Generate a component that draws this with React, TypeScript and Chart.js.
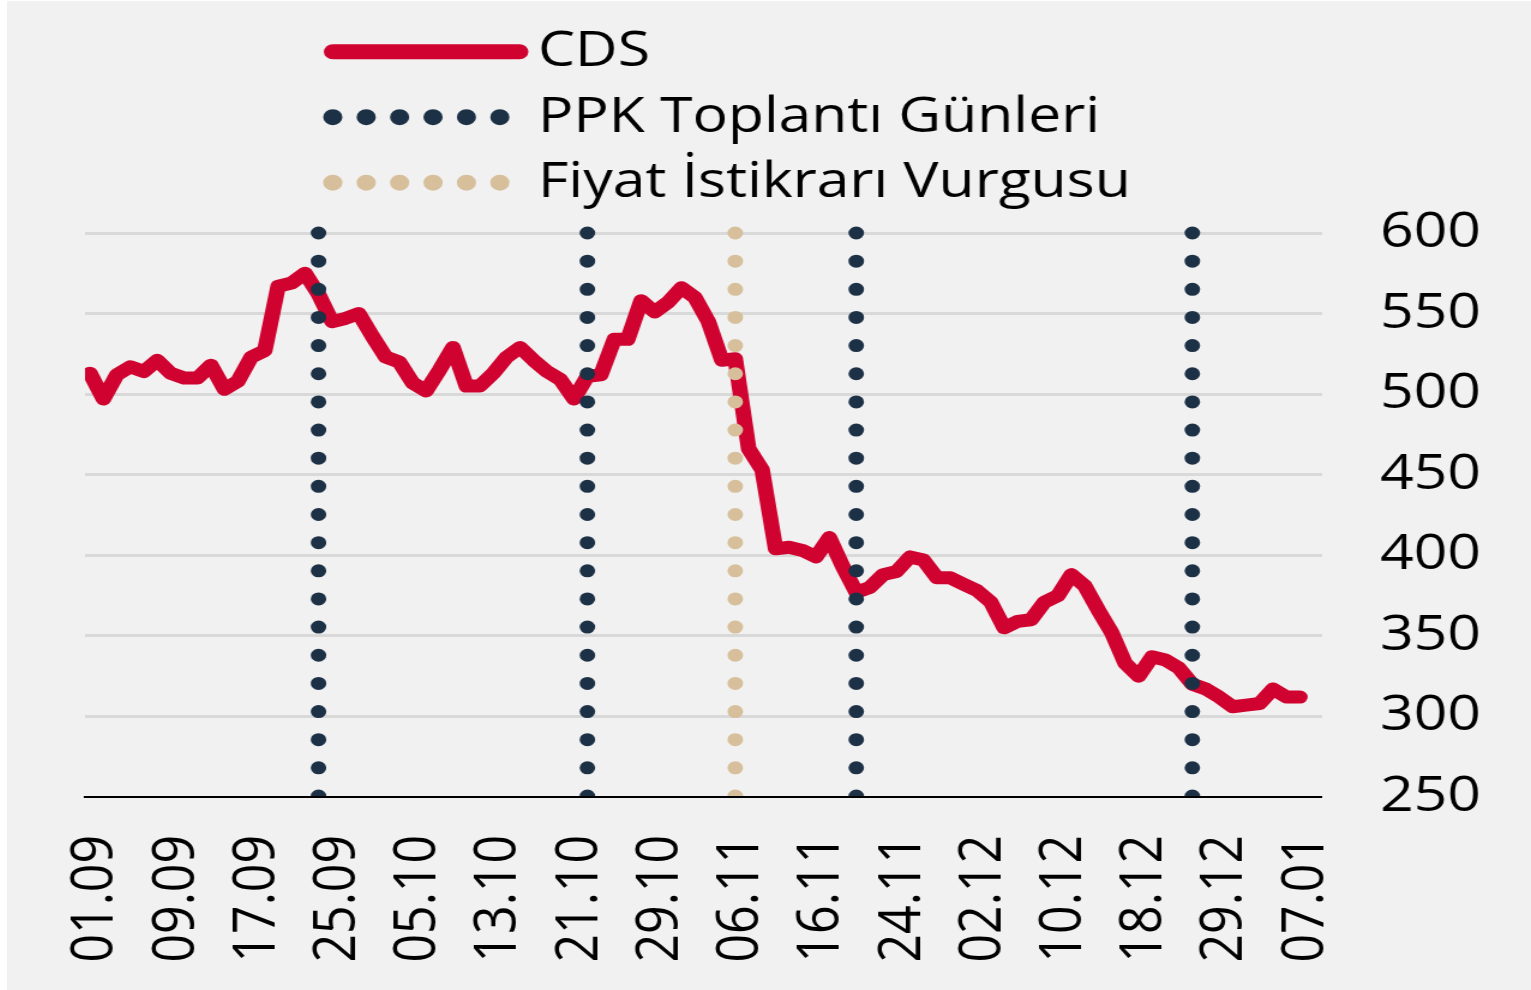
import React, { useEffect, useRef } from 'react';
import { Chart, registerables } from 'chart.js';

Chart.register(...registerables);

// ---------- data ----------
const DATES = [
  '01.09', '02.09', '03.09', '04.09', '07.09', '08.09', '09.09', '10.09', '11.09', '14.09', '15.09',
  '16.09', '17.09', '18.09', '21.09', '22.09', '23.09', '24.09', '25.09', '28.09', '29.09', '30.09',
  '01.10', '02.10', '05.10', '06.10', '07.10', '08.10', '09.10', '12.10', '13.10', '14.10', '15.10',
  '16.10', '19.10', '20.10', '21.10', '22.10', '23.10', '26.10', '27.10', '28.10', '29.10', '30.10',
  '02.11', '03.11', '04.11', '05.11', '06.11', '09.11', '10.11', '11.11', '12.11', '13.11', '16.11',
  '17.11', '18.11', '19.11', '20.11', '23.11', '24.11', '25.11', '26.11', '27.11', '30.11',
  '01.12', '02.12', '03.12', '04.12', '07.12', '08.12', '09.12', '10.12', '11.12', '14.12', '15.12',
  '16.12', '17.12', '18.12', '21.12', '22.12', '23.12', '24.12', '28.12', '29.12', '30.12', '31.12',
  '04.01', '05.01', '06.01', '07.01',
];

const CDS = [
  513, 497, 512, 517, 514, 521, 513, 510, 510, 518, 503, 508, 523, 527, 567, 569, 575, 562, 545, 547,
  550, 536, 523, 520, 507, 502, 515, 529, 505, 505, 513, 523, 529, 521, 514, 509, 497, 511, 512, 534,
  534, 558, 551, 557, 566, 560, 545, 521, 522, 466, 453, 404, 405, 403, 399, 411, 393, 377, 380, 388,
  390, 399, 397, 386, 386, 382, 378, 371, 355, 359, 360, 371, 375, 388, 381, 366, 352, 333, 325, 337,
  335, 330, 320, 317, 312, 306, 307, 308, 317, 312, 312,
];

const PPK_DATES = ['24.09', '22.10', '19.11', '24.12'];
const FIYAT_DATES = ['06.11'];

const TICK_DATES = [
  '01.09', '09.09', '17.09', '25.09', '05.10', '13.10', '21.10', '29.10',
  '06.11', '16.11', '24.11', '02.12', '10.12', '18.12', '29.12', '07.01',
];
const Y_TICKS = [250, 300, 350, 400, 450, 500, 550, 600];

const LABELS = ['CDS', 'PPK Toplantı Günleri', 'Fiyat İstikrarı Vurgusu'];

// ---------- style ----------
const FONT = "'Open Sans', sans-serif";
const RED = '#d0022f';
const NAVY = '#1d3146';
const TAN = '#d6bf9a';
const BG = '#f1f1f1';
const W = 1270;
const H = 989;
const SX = 1.2;

const Y_MIN = Y_TICKS[0];
const Y_MAX = Y_TICKS[Y_TICKS.length - 1];

// vertical marker lines, drawn top -> bottom, broken by null gaps
const vLine = (dates: string[]) =>
  dates.flatMap((d) => {
    const i = DATES.indexOf(d);
    return [
      { x: i, y: Y_MAX },
      { x: i, y: Y_MIN },
      { x: i, y: null },
    ];
  });

const stackedLegend = {
  id: 'stackedLegend',
  afterDatasetsDraw(chart: any, _args: any, opts: any) {
    const { ctx } = chart;
    chart.data.datasets.forEach((ds: any, i: number) => {
      const y = opts.firstY + i * opts.gap;
      ctx.save();
      ctx.strokeStyle = ds.borderColor;
      ctx.lineWidth = ds.legendWidth ?? ds.borderWidth;
      ctx.lineCap = 'round';
      ctx.setLineDash(ds.legendDash ?? []);
      ctx.beginPath();
      ctx.moveTo(opts.x0, y);
      ctx.lineTo(ds.legendDash ? opts.dotX1 : opts.x1, y);
      ctx.stroke();
      ctx.setLineDash([]);
      ctx.fillStyle = opts.color;
      ctx.font = `${opts.size}px ${FONT}`;
      ctx.textBaseline = 'alphabetic';
      ctx.textAlign = 'left';
      ctx.fillText(ds.label, opts.textX, y + opts.baselineOffset);
      ctx.restore();
    });
  },
};

export default function App() {
  const ref = useRef<HTMLCanvasElement>(null);

  useEffect(() => {
    if (!ref.current) return;
    const vClip = { left: false, right: false, top: false, bottom: 0 };
    const chart = new Chart(ref.current, {
      type: 'line',
      data: {
        datasets: [
          {
            label: LABELS[0],
            data: CDS.map((y, x) => ({ x, y })),
            borderColor: RED,
            borderWidth: 13,
            borderJoinStyle: 'round',
            borderCapStyle: 'round',
            pointRadius: 0,
            tension: 0,
            order: 2,
            legendWidth: 15,
          } as any,
          {
            label: LABELS[1],
            data: vLine(PPK_DATES),
            borderColor: NAVY,
            borderWidth: 13,
            borderDash: [0, 28.15],
            borderCapStyle: 'round',
            pointRadius: 0,
            spanGaps: false,
            order: 1,
            clip: vClip,
            legendWidth: 16,
            legendDash: [0, 27.84],
          } as any,
          {
            label: LABELS[2],
            data: vLine(FIYAT_DATES),
            borderColor: TAN,
            borderWidth: 13,
            borderDash: [0, 28.15],
            borderCapStyle: 'round',
            pointRadius: 0,
            spanGaps: false,
            order: 1,
            clip: vClip,
            legendWidth: 16,
            legendDash: [0, 27.84],
          } as any,
        ],
      },
      options: {
        responsive: false,
        animation: false,
        devicePixelRatio: 1,
        events: [],
        layout: { padding: { top: 232, left: 65, right: 0, bottom: 0 } },
        plugins: {
          legend: { display: false },
          tooltip: { enabled: false },
          stackedLegend: {
            firstY: 50.7,
            gap: 65.5,
            x0: 271.5,
            x1: 427,
            dotX1: 410.9,
            textX: 442.5,
            baselineOffset: 14.5,
            size: 49,
            color: '#000',
          },
        } as any,
        scales: {
          x: {
            type: 'linear',
            min: -0.37,
            max: 91.64,
            grid: { display: false },
            border: { display: true, color: '#000', width: 2, z: 1 },
            afterBuildTicks: (s: any) => {
              s.ticks = TICK_DATES.map((d) => ({ value: DATES.indexOf(d) }));
            },
            afterFit: (s: any) => {
              s.height = 193;
            },
            ticks: {
              autoSkip: false,
              minRotation: 90,
              maxRotation: 90,
              padding: 30,
              labelOffset: 5,
              color: '#000',
              font: { family: FONT, size: 50 },
              callback: (v: any) => DATES[v as number],
            },
          },
          y: {
            position: 'right',
            min: Y_MIN,
            max: Y_MAX,
            afterBuildTicks: (s: any) => {
              s.ticks = Y_TICKS.map((v) => ({ value: v }));
            },
            afterFit: (s: any) => {
              s.width = 174.2;
            },
            grid: {
              color: (c: any) => (c.tick && c.tick.value === Y_MIN ? 'rgba(0,0,0,0)' : '#d9d9d9'),
              lineWidth: 3,
              drawTicks: false,
            },
            border: { display: false },
            ticks: {
              padding: 48.4,
              color: '#000',
              font: { family: FONT, size: 49 },
            },
          },
        },
      },
      plugins: [stackedLegend],
    } as any);
    return () => chart.destroy();
  }, []);

  return (
    <div
      style={{
        position: 'absolute',
        left: 7,
        top: 1,
        width: W * SX,
        height: H,
        background: BG,
        overflow: 'hidden',
      }}
    >
      <canvas
        ref={ref}
        width={W}
        height={H}
        style={{
          width: W,
          height: H,
          display: 'block',
          transform: `scaleX(${SX})`,
          transformOrigin: '0 0',
        }}
      />
    </div>
  );
}
